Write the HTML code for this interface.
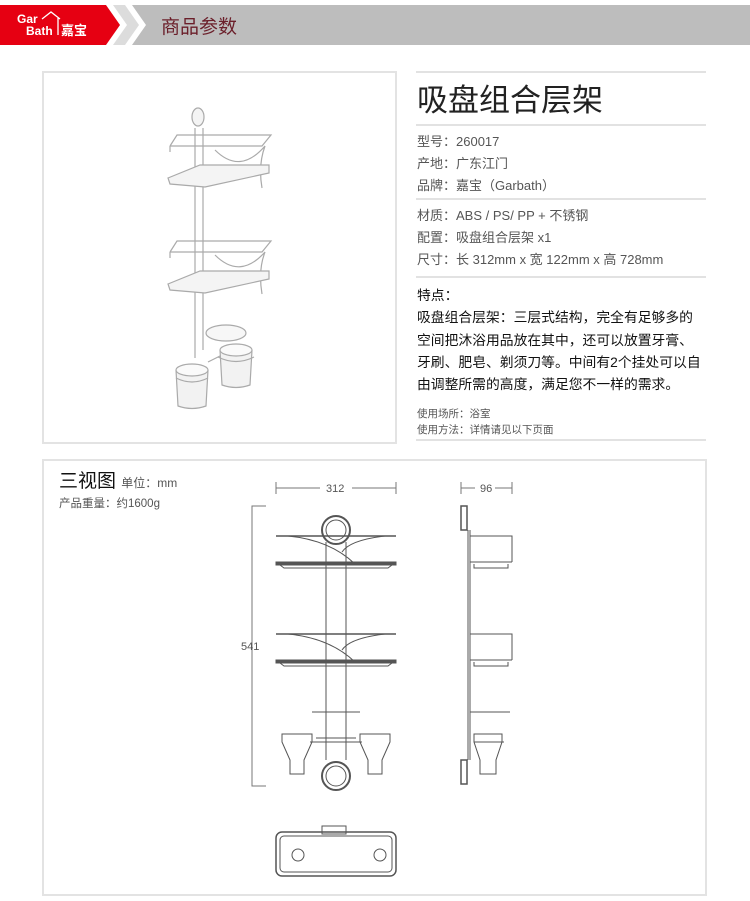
<!DOCTYPE html>
<html><head><meta charset="utf-8"><style>
body{margin:0;width:750px;height:901px;background:#fff;position:relative;overflow:hidden;font-family:"Liberation Sans","Noto Sans CJK SC",sans-serif;}
.a{position:absolute;white-space:nowrap}
.box{position:absolute;border:2px solid #e3e3e3;box-sizing:border-box}
.hr{position:absolute;left:416px;width:290px;height:2px;background:#e2e2e2}
.t{color:#555;font-size:13px;line-height:22px}
</style></head><body>
<svg class="a" style="left:0;top:0" width="750" height="50">
<rect x="0" y="5" width="750" height="40" fill="#fff"/>
<polygon points="0,5 106,5 120,25 106,45 0,45" fill="#e60012"/>
<polygon points="113,5 125,5 139,25 125,45 113,45 127,25" fill="#dcdcdc"/>
<polygon points="132,5 750,5 750,45 132,45 146,25" fill="#bdbdbd"/>
<text x="17" y="23" font-family="Liberation Sans" font-weight="bold" font-size="12" fill="#fff">Gar</text>
<text x="26" y="35" font-family="Liberation Sans" font-weight="bold" font-size="12" fill="#fff">Bath</text>
<path d="M42 19 L51 12 L60 19 M58 18 L58 35" stroke="#fff" fill="none" stroke-width="1.3"/>
<text x="61" y="35" font-family="Noto Sans CJK SC" font-weight="bold" font-size="13" fill="#fff">嘉宝</text>
<text x="161" y="33" font-family="Noto Sans CJK SC" font-size="19" fill="#6b1f2a">商品参数</text>
</svg>

<div class="box" style="left:42px;top:71px;width:355px;height:373px"></div>
<svg class="a" style="left:0;top:0" width="400" height="450" fill="none" stroke="#aaa" stroke-width="1.2">
<ellipse cx="198" cy="117" rx="6" ry="9" fill="#f4f4f4"/>
<line x1="195" y1="128" x2="195" y2="358"/><line x1="203" y1="128" x2="203" y2="350"/>
<path d="M170 146 L177 135 L271 135 L262 146 L170 146 M170 146 L170 152"/>
<path d="M215 150 Q240 175 265 146 Q258 165 262 188"/>
<polygon points="168,178 200,165 269,165 269,173 205,187 170,184" fill="#f4f4f4"/>
<path d="M170 252 L177 241 L271 241 L262 252 L170 252 M170 252 L170 258"/>
<path d="M215 255 Q240 280 265 252 Q258 270 262 294"/>
<polygon points="168,284 200,271 269,271 269,279 205,293 170,290" fill="#f4f4f4"/>
<ellipse cx="226" cy="333" rx="20" ry="8" fill="#f7f7f7"/>
<path d="M208 362 L222 355"/>
<path d="M176 370 L178 406 Q192 411 206 406 L208 370" fill="#f2f2f2"/>
<ellipse cx="192" cy="370" rx="16" ry="6" fill="#fafafa"/>
<path d="M176 378 Q192 386 208 378"/>
<path d="M220 350 L222 385 Q236 390 250 385 L252 350" fill="#f2f2f2"/>
<ellipse cx="236" cy="350" rx="16" ry="6" fill="#fafafa"/>
<path d="M218 357 Q236 366 254 357"/>
</svg>

<div class="hr" style="top:71px"></div>
<div class="a" style="left:417px;top:75px;font-size:31px;color:#222;font-family:'Noto Sans CJK SC',sans-serif">吸盘组合层架</div>
<div class="hr" style="top:124px"></div>
<div class="a t" style="left:417px;top:131px">型号：260017<br>产地：广东江门<br>品牌：嘉宝（Garbath）</div>
<div class="hr" style="top:198px"></div>
<div class="a t" style="left:417px;top:205px">材质：ABS / PS/ PP + 不锈钢<br>配置：吸盘组合层架 x1<br>尺寸：长 312mm x 宽 122mm x 高 728mm</div>
<div class="hr" style="top:276px"></div>
<div class="a" style="left:417px;top:285px;font-size:13.8px;line-height:22.3px;color:#111">特点：<br>吸盘组合层架：三层式结构，完全有足够多的<br>空间把沐浴用品放在其中，还可以放置牙膏、<br>牙刷、肥皂、剃须刀等。中间有2个挂处可以自<br>由调整所需的高度，满足您不一样的需求。</div>
<div class="a" style="left:417px;top:407px;font-size:10.5px;line-height:15.5px;color:#555">使用场所：浴室<br>使用方法：详情请见以下页面</div>
<div class="hr" style="top:439px"></div>

<div class="box" style="left:42px;top:459px;width:665px;height:437px"></div>
<div class="a" style="left:59px;top:466px;font-size:19px;color:#111">三视图 <span style="font-size:12px;color:#555">单位：mm</span></div>
<div class="a" style="left:59px;top:495px;font-size:11.5px;color:#555">产品重量：约1600g</div>

<svg class="a" style="left:230px;top:470px" width="300" height="420" fill="none" stroke="#555" stroke-width="1" font-family="Liberation Sans" font-size="11">
<g stroke="#777"><path d="M46 12 L46 24 M46 18 L90 18 M122 18 L166 18 M166 12 L166 24"/>
<path d="M231 12 L231 24 M231 18 L245 18 M265 18 L282 18 M282 12 L282 24"/>
<path d="M36 36 L22 36 L22 316 L36 316"/></g>
<text x="96" y="22" fill="#555" stroke="none">312</text>
<text x="250" y="22" fill="#555" stroke="none">96</text>
<text x="11" y="180" fill="#555" stroke="none">541</text>
<circle cx="106" cy="60" r="14" stroke-width="2"/><circle cx="106" cy="60" r="10"/>
<line x1="96" y1="72" x2="96" y2="290"/><line x1="116" y1="72" x2="116" y2="290"/>
<line x1="46" y1="66" x2="166" y2="66" stroke-width="1.5"/>
<rect x="46" y="92" width="120" height="3" fill="#555"/><path d="M50 95 L54 98 L158 98 L162 95"/>
<path d="M58 66 Q100 70 125 94 M155 66 Q120 70 112 82"/>
<line x1="46" y1="164" x2="166" y2="164" stroke-width="1.5"/>
<rect x="46" y="190" width="120" height="3" fill="#555"/><path d="M50 193 L54 196 L158 196 L162 193"/>
<path d="M58 164 Q100 168 125 192 M155 164 Q120 168 112 180"/>
<line x1="82" y1="242" x2="130" y2="242"/>
<path d="M80 272 L132 272 M86 268 L126 268"/>
<path d="M52 264 L82 264 L82 272 L74 290 L74 304 L60 304 L60 290 L52 272 Z"/>
<path d="M130 264 L160 264 L160 272 L152 290 L152 304 L138 304 L138 290 L130 272 Z"/>
<circle cx="106" cy="306" r="14" stroke-width="2"/><circle cx="106" cy="306" r="10"/>
<rect x="231" y="36" width="6" height="24" stroke-width="1.5"/><rect x="231" y="290" width="6" height="24" stroke-width="1.5"/>
<line x1="238" y1="60" x2="238" y2="290"/><line x1="240" y1="60" x2="240" y2="290"/>
<path d="M240 66 L282 66 L282 92 M240 92 L282 92 M244 94 L244 98 L278 98 L278 94"/>
<path d="M240 164 L282 164 L282 190 M240 190 L282 190 M244 192 L244 196 L278 196 L278 192"/>
<path d="M240 242 L280 242 M244 272 L274 272"/>
<path d="M244 264 L272 264 L272 272 L266 290 L266 304 L250 304 L250 290 L244 272 Z"/>
<rect x="46" y="362" width="120" height="44" rx="6" stroke-width="1.5"/><rect x="50" y="366" width="112" height="36" rx="4"/>
<rect x="92" y="356" width="24" height="8"/>
<circle cx="68" cy="385" r="6"/><circle cx="150" cy="385" r="6"/>
</svg>
</body></html>
